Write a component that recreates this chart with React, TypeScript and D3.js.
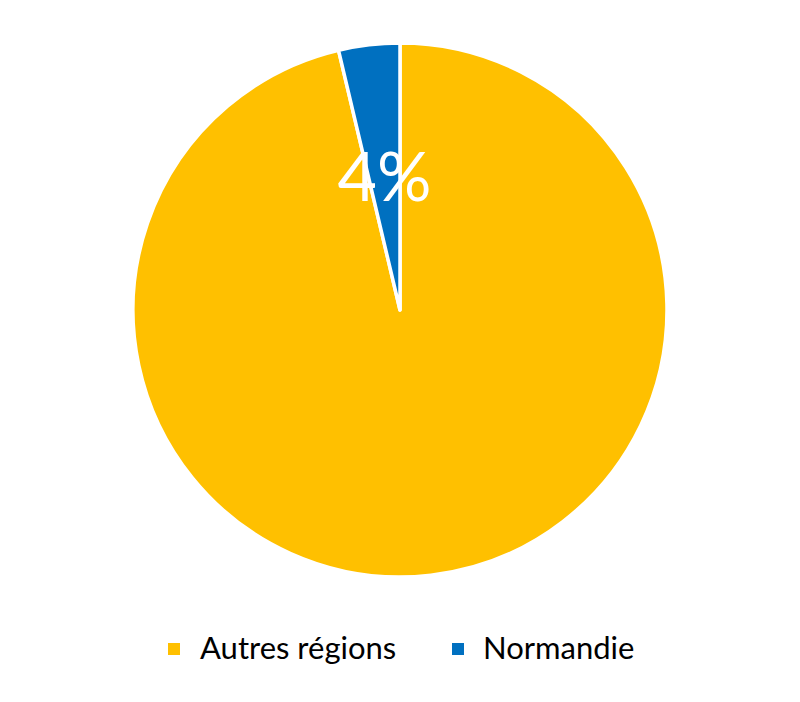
import React from "react";
import * as d3 from "d3";

const categories = ["Autres régions", "Normandie"];
const values = [96.3, 3.7];
const colors = ["#FFC000", "#0070C0"];

const W = 800;
const H = 702;
const cx = 400;
const cy = 310;
const R = 267;

export default function App() {
  const data = categories.map((c, i) => ({ c, v: values[i], col: colors[i] }));
  const pie = d3.pie<any>().sort(null).value((d) => d.v);
  const arcs = pie(data);
  const arc = d3.arc<any>().innerRadius(0).outerRadius(R);
  const labelArc = d3.arc<any>().innerRadius(R * 0.5).outerRadius(R * 0.5);
  const total = d3.sum(values);
  const font = "Lato, 'Open Sans', sans-serif";
  const legendX = [168, 452];
  const textX = [200, 483];
  return (
    <svg width={W} height={H} style={{ position: "absolute", left: 0, top: 0, background: "#fff" }}>
      <g transform={`translate(${cx},${cy})`}>
        {arcs.map((a, i) => (
          <path key={i} d={arc(a) as string} fill={a.data.col} stroke="#fff" strokeWidth={3.5} strokeLinejoin="round" />
        ))}
        {arcs.map((a, i) => {
          if (a.data.c !== "Normandie") return null;
          const [x, y] = labelArc.centroid(a);
          return (
            <text key={"l" + i} x={x} y={y} dy="0.35em" textAnchor="middle" fill="#fff" fontFamily={font} fontSize={68} fontWeight={400}>
              {Math.round((a.data.v / total) * 100) + "%"}
            </text>
          );
        })}
      </g>
      {data.map((d, i) => (
        <g key={"lg" + i}>
          <rect x={legendX[i]} y={643} width={12} height={12} fill={d.col} />
          <text x={textX[i]} y={659} fill="#000" fontFamily={font} fontSize={31}>
            {d.c}
          </text>
        </g>
      ))}
    </svg>
  );
}
